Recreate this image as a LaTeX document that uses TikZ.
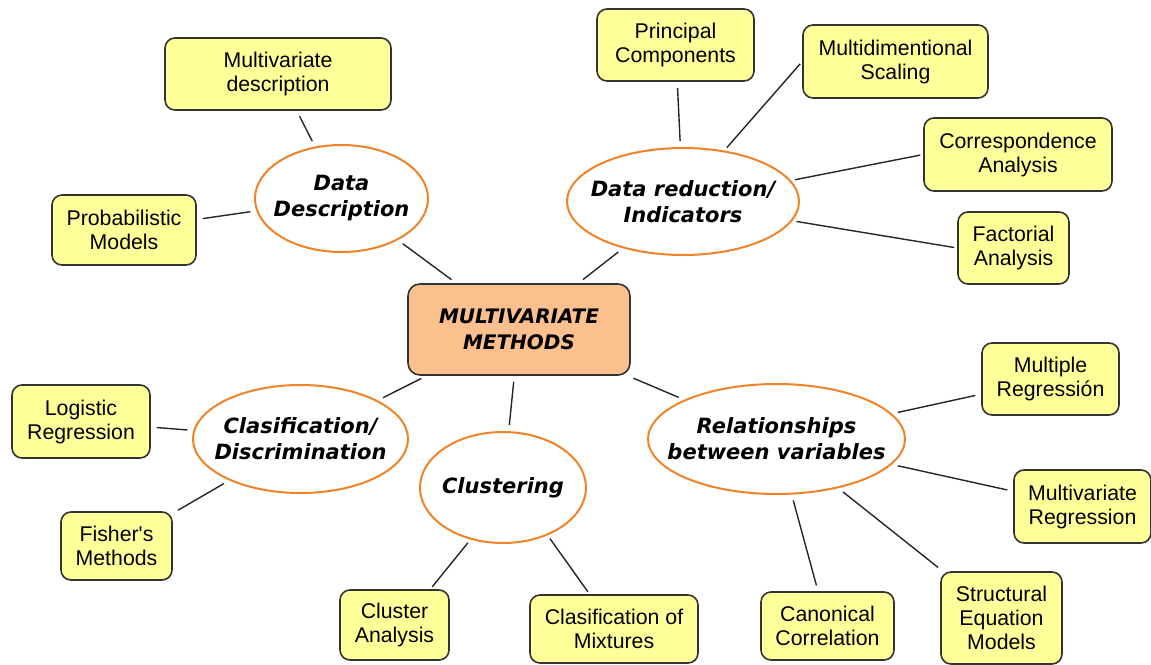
\documentclass[tikz,border=0pt]{standalone}
\usepackage{fontspec}
\setmainfont{Liberation Sans}
\newfontfamily\topicfont{DejaVu Sans}
\usetikzlibrary{shapes.geometric}
\definecolor{leafyellow}{RGB}{255,255,153}
\definecolor{ellorange}{RGB}{240,130,40}
\definecolor{centerfill}{RGB}{251,192,142}
\begin{document}
\begin{tikzpicture}[x=1pt,y=-1pt,
 leaf/.style={draw=black!80, line width=1.6pt, fill=leafyellow, rounded corners=10pt, align=center, font=\fontsize{21.3}{24}\selectfont, inner sep=0pt},
 topic/.style={ellipse, draw=ellorange, line width=2pt, fill=white, align=center, font=\topicfont\bfseries\itshape\fontsize{21}{26}\selectfont, inner sep=-30pt},
 hub/.style={draw=black!80, line width=1.6pt, fill=centerfill, rounded corners=12pt, align=center, font=\topicfont\bfseries\itshape\fontsize{20}{26}\selectfont, inner sep=0pt},
 link/.style={draw=black!85, line width=1.4pt, shorten <=6pt, shorten >=6pt},
 alink/.style={draw=black!85, line width=1.4pt, shorten <=3pt, shorten >=4pt}]
\useasboundingbox (0,0) rectangle (1151,664);

% centre
\node[hub, minimum width=222pt, minimum height=91pt] (mm) at (519,329.5) {MULTIVARIATE\\METHODS};

% topics
\node[topic, minimum width=173pt, minimum height=107pt] (dd) at (341.5,198.5) {Data\\Description};
\node[topic, minimum width=232pt, minimum height=107pt] (dr) at (683,201.5) {Data reduction/\\Indicators};
\node[topic, minimum width=215pt, minimum height=108pt] (cd) at (300.5,439) {Clasification/\\Discrimination};
\node[topic, minimum width=166pt, minimum height=111pt] (cl) at (503,487.5) {Clustering};
\node[topic, minimum width=257pt, minimum height=110pt] (rv) at (776.5,439) {Relationships\\between variables};

% leaves
\node[leaf, minimum width=226pt, minimum height=72pt] (md) at (278,74) {Multivariate\\description};
\node[leaf, minimum width=144pt, minimum height=70pt] (pm) at (124,230) {Probabilistic\\Models};
\node[leaf, minimum width=157pt, minimum height=72pt] (pc) at (675.5,45) {Principal\\Components};
\node[leaf, minimum width=185pt, minimum height=73pt] (ms) at (895.5,61.5) {Multidimentional\\Scaling};
\node[leaf, minimum width=188pt, minimum height=73pt] (ca) at (1018,154.5) {Correspondence\\Analysis};
\node[leaf, minimum width=111pt, minimum height=72pt] (fa) at (1013.5,248) {Factorial\\Analysis};
\node[leaf, minimum width=138pt, minimum height=73pt] (lr) at (81,421.5) {Logistic\\Regression};
\node[leaf, minimum width=111pt, minimum height=68pt] (fm) at (116.5,546) {Fisher\textquotesingle s\\Methods};
\node[leaf, minimum width=109pt, minimum height=70pt] (cla) at (394.5,625) {Cluster\\Analysis};
\node[leaf, minimum width=168pt, minimum height=68pt] (mix) at (614,629) {Clasification of\\Mixtures};
\node[leaf, minimum width=133pt, minimum height=68pt] (can) at (827.5,626) {Canonical\\Correlation};
\node[leaf, minimum width=121pt, minimum height=92pt] (sem) at (1001.5,618) {Structural\\Equation\\Models};
\node[leaf, minimum width=137pt, minimum height=72pt] (mr) at (1050.5,379) {Multiple\\Regressión};
\node[leaf, minimum width=137pt, minimum height=73pt] (mvr) at (1082.5,506.5) {Multivariate\\Regression};

% connectors
\draw[link] (md) -- (dd);
\draw[link] (pm) -- (dd);
\draw[link] (dd) -- (mm);
\draw[link] (pc) -- (dr);
\draw[alink] (ms.west) -- (dr.51);
\draw[alink] (ca.west) -- (dr.11);
\draw[alink] (fa.west) -- (dr.-10);
\draw[link] (dr) -- (mm);
\draw[link] (mm) -- (cd);
\draw[link] (lr) -- (cd);
\draw[link] (fm) -- (cd);
\draw[link] (mm) -- (cl);
\draw[alink] (cla.45) -- (cl.238);
\draw[alink] (mix.125) -- (cl.-47);
\draw[link] (mm) -- (rv);
\draw[link] (mr) -- (rv);
\draw[link] (mvr) -- (rv);
\draw[link] (can) -- (rv);
\draw[link] (sem) -- (rv);
\end{tikzpicture}
\end{document}
